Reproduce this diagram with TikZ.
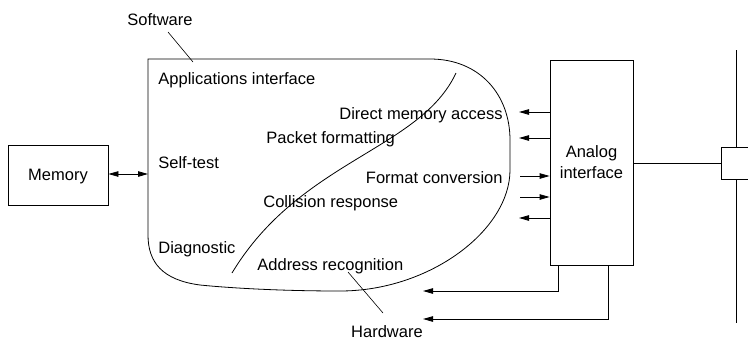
\documentclass[tikz,border=0pt]{standalone}
\usepackage{fontspec}
\setmainfont{Liberation Sans}
\usetikzlibrary{arrows.meta}
\begin{document}
\begin{tikzpicture}[x=1pt,y=-1pt, line width=0.8pt,
  lbl/.style={inner sep=0pt, font=\fontsize{16.5}{21}\selectfont},
  arr/.style={-{Triangle[length=10pt,width=5.5pt]}},
  darr/.style={{Triangle[length=10pt,width=5.5pt]}-{Triangle[length=10pt,width=5.5pt]}},
  box/.style={draw, inner sep=0pt, font=\fontsize{16.5}{21}\selectfont, align=center}]
\useasboundingbox (0,0) rectangle (748,349);
% boxes
\node[box, minimum width=100pt, minimum height=60pt, text depth=0pt] (memory) at (58,175) {Memory};
\node[box, minimum width=83pt, minimum height=205pt] (analog) at (591.5,162.5) {Analog\\interface};
\node[draw, inner sep=0pt, minimum width=40pt, minimum height=32pt, anchor=west] (tap) at (721,163) {};
% blob
\draw (148,59) -- (430,59) .. controls (480,59) and (510,95) .. (510,140) -- (510,170)
  .. controls (510,230) and (430,291) .. (340,291)
  .. controls (280,291) and (230,288) .. (200,285)
  .. controls (162,280) and (148,262) .. (148,235) -- cycle;
\draw (456,73) .. controls (420,150) and (300,160) .. (232,273);
% labels
\node[lbl, anchor=base] (sw) at (160,25) {Software};
\node[lbl, anchor=base west] (ai) at (158,84) {Applications interface};
\node[lbl, anchor=base east] (dma) at (503,119) {Direct memory access};
\node[lbl, anchor=base west] (pf) at (266,143) {Packet formatting};
\node[lbl, anchor=base west] (st) at (158,168) {Self-test};
\node[lbl, anchor=base east] (fc) at (503,183) {Format conversion};
\node[lbl, anchor=base west] (cr) at (263,207) {Collision response};
\node[lbl, anchor=base west] (dg) at (158,253) {Diagnostic};
\node[lbl, anchor=base west] (ar) at (257,270) {Address recognition};
\node[lbl, anchor=base] (hw) at (387,337) {Hardware};
% leaders
\coordinate (swend) at (193,62);
\coordinate (hwstart) at (348,272);
\draw[line width=0.6pt] (168,32) -- (swend);
\draw[line width=0.6pt] (hwstart) -- (383,313);
% memory arrow
\coordinate (bl) at (148,174);
\draw[darr] (memory.east |- bl) -- (bl);
% analog arrows
\coordinate (a1) at (519,112);
\coordinate (a2) at (519,138);
\coordinate (a3) at (520,176);
\coordinate (a4) at (520,197);
\coordinate (a5) at (519,218);
\draw[arr] (analog.west |- a1) -- (a1);
\draw[arr] (analog.west |- a2) -- (a2);
\draw[arr] (a3) -- (analog.west |- a3);
\draw[arr] (a4) -- (analog.west |- a4);
\draw[arr] (analog.west |- a5) -- (a5);
% bottom arrows
\coordinate (b1) at (423,291);
\coordinate (b2) at (423,319);
\draw[arr] (558,265) |- (b1);
\draw[arr] (608,265) |- (b2);
% line to bus
\draw (analog.east |- tap.west) -- (tap.west);
\coordinate (bustop) at (736,50);
\coordinate (busbot) at (736,323);
\draw (bustop) -- (bustop |- tap.north);
\draw (bustop |- tap.south) -- (busbot);
\end{tikzpicture}
\end{document}
